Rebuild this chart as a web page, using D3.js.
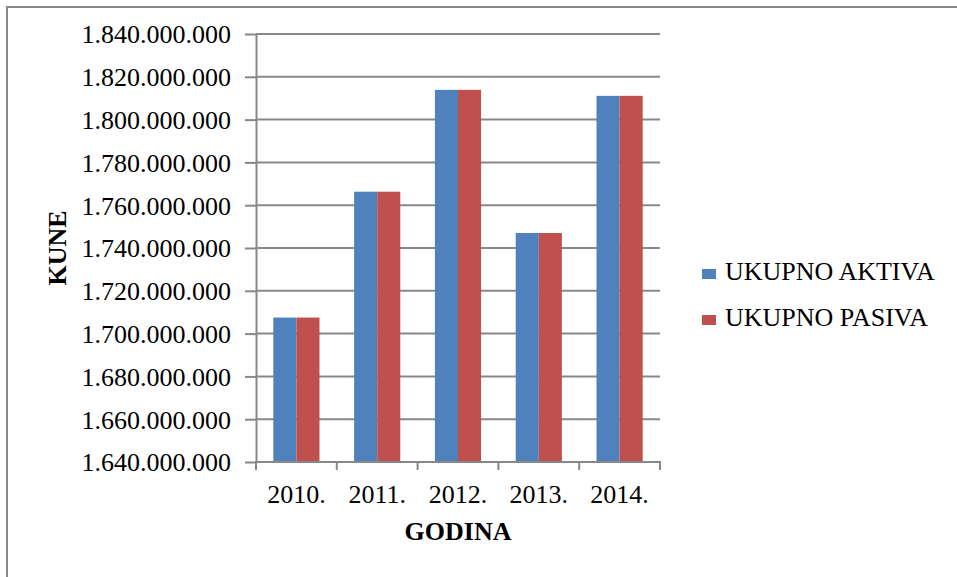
<!DOCTYPE html>
<html>
<head>
<meta charset="utf-8">
<script src="https://cdn.jsdelivr.net/npm/d3@7"></script>
<style>
  body { margin: 0; background: #fff; }
</style>
</head>
<body>
<svg id="chart" width="957" height="577"></svg>
<script>
const years = ['2010.', '2011.', '2012.', '2013.', '2014.'];
const seriesNames = ['UKUPNO AKTIVA', 'UKUPNO PASIVA'];
const aktiva = [1707500000, 1766300000, 1813900000, 1747000000, 1811100000];
const pasiva = [1707500000, 1766300000, 1813900000, 1747000000, 1811100000];
const yTicks = [1640000000, 1660000000, 1680000000, 1700000000, 1720000000,
  1740000000, 1760000000, 1780000000, 1800000000, 1820000000, 1840000000];
const colors = ['#4F81BD', '#C0504D'];

const FONT = "'Liberation Serif', 'DejaVu Serif', serif";

const svg = d3.select('#chart').style('font-family', FONT);

const plot = { left: 256, right: 660, top: 34, bottom: 462 };

// frame of the chart area (right/bottom edges fall outside the picture)
svg.append('rect')
  .attr('x', 7).attr('y', 7)
  .attr('width', 980).attr('height', 600)
  .attr('fill', 'none')
  .attr('stroke', '#878787')
  .attr('stroke-width', 2);

const x0 = d3.scaleBand().domain(years).range([plot.left, plot.right]).padding(0);
const x1 = d3.scaleBand().domain(seriesNames).range([0, x0.bandwidth()])
  .paddingInner(0).paddingOuter(0.75);
const y = d3.scaleLinear().domain([1640000000, 1840000000]).range([plot.bottom, plot.top]);

const locale = d3.formatLocale({ decimal: ',', thousands: '.', grouping: [3], currency: ['', ''] });
const fmt = locale.format(',d');

// gridlines
svg.append('g')
  .selectAll('line')
  .data(yTicks)
  .join('line')
  .attr('x1', plot.left).attr('x2', plot.right)
  .attr('y1', (d) => y(d)).attr('y2', (d) => y(d))
  .attr('stroke', '#888')
  .attr('stroke-width', 2);

// bars
const data = years.map((yr, i) => ({ year: yr, values: [aktiva[i], pasiva[i]] }));
svg.append('g')
  .selectAll('g')
  .data(data)
  .join('g')
  .attr('transform', (d) => `translate(${x0(d.year)},0)`)
  .selectAll('rect')
  .data((d) => d.values.map((v, j) => ({ name: seriesNames[j], value: v, j })))
  .join('rect')
  .attr('x', (d) => x1(d.name))
  .attr('y', (d) => y(d.value))
  .attr('width', x1.bandwidth())
  .attr('height', (d) => y(yTicks[0]) - y(d.value))
  .attr('fill', (d) => colors[d.j]);

// y axis
const yAxis = svg.append('g')
  .attr('transform', `translate(${plot.left},0)`)
  .call(d3.axisLeft(y).tickValues(yTicks).tickFormat(fmt).tickSize(11).tickPadding(14).tickSizeOuter(0))
  .attr('font-family', null)
  .attr('font-size', null);
yAxis.select('.domain').attr('stroke', '#888').attr('stroke-width', 2);
yAxis.selectAll('.tick line').attr('stroke', '#888').attr('stroke-width', 2);
yAxis.selectAll('.tick text')
  .style('font-family', FONT)
  .style('font-size', '26px')
  .attr('fill', '#000')
  .attr('dy', '0.34em');

// x axis
const xAxis = svg.append('g')
  .attr('transform', `translate(0,${plot.bottom})`)
  .call(d3.axisBottom(x0).tickSize(0).tickPadding(23))
  .attr('font-family', null)
  .attr('font-size', null);
xAxis.select('.domain').remove();
xAxis.selectAll('.tick text')
  .style('font-family', FONT)
  .style('font-size', '26px')
  .attr('fill', '#000');

svg.append('line')
  .attr('x1', plot.left - 1).attr('x2', plot.right + 1)
  .attr('y1', plot.bottom).attr('y2', plot.bottom)
  .attr('stroke', '#888').attr('stroke-width', 2);

const boundaries = years.map((d) => x0(d)).concat([x0(years[years.length - 1]) + x0.bandwidth()]);
svg.append('g')
  .selectAll('line')
  .data(boundaries)
  .join('line')
  .attr('x1', (d) => d).attr('x2', (d) => d)
  .attr('y1', plot.bottom).attr('y2', plot.bottom + 8)
  .attr('stroke', '#888')
  .attr('stroke-width', 2);

// axis titles
svg.append('text')
  .attr('x', (plot.left + plot.right) / 2)
  .attr('y', 540)
  .attr('text-anchor', 'middle')
  .style('font-family', FONT)
  .style('font-size', '26px')
  .style('font-weight', 'bold')
  .text('GODINA');

svg.append('text')
  .attr('transform', 'rotate(-90)')
  .attr('x', -(plot.top + plot.bottom) / 2)
  .attr('y', 66)
  .attr('text-anchor', 'middle')
  .style('font-family', FONT)
  .style('font-size', '26px')
  .style('font-weight', 'bold')
  .text('KUNE');

// legend
const legend = svg.append('g')
  .selectAll('g')
  .data(seriesNames)
  .join('g')
  .attr('transform', (d, i) => `translate(702,${269 + i * 46})`);

legend.append('rect')
  .attr('width', 14).attr('height', 10)
  .attr('fill', (d, i) => colors[i]);

legend.append('text')
  .attr('x', 23)
  .attr('y', 11)
  .style('font-family', FONT)
  .style('font-size', '26px')
  .text((d) => d);
</script>
</body>
</html>
